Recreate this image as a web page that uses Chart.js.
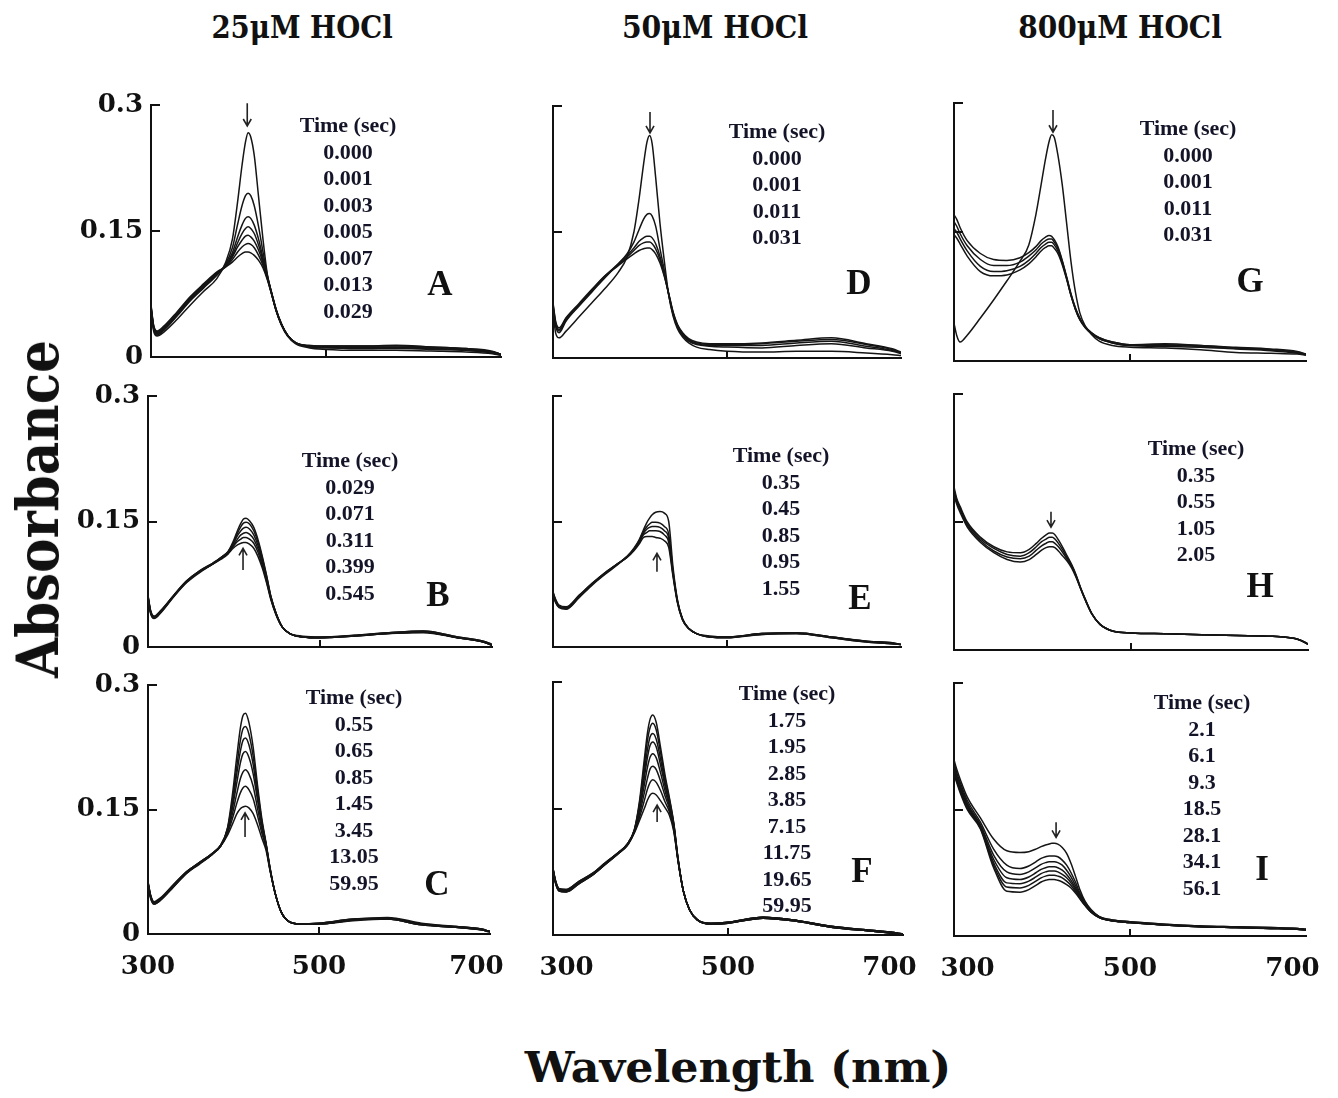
<!DOCTYPE html>
<html>
<head>
<meta charset="utf-8">
<title>HOCl spectra</title>
<script src="https://cdn.jsdelivr.net/npm/chart.js@4.4.1/dist/chart.umd.min.js"></script>
<style>
  body { margin: 0; background: #fff; }
  #page { position: relative; width: 1338px; height: 1098px; overflow: hidden; background: #fff; }
  canvas { position: absolute; }
  .big { position: absolute; font-family: 'DejaVu Serif', serif; font-weight: bold; color: #111; white-space: nowrap; line-height: 1; }
  .times { position: absolute; transform: translateX(-50%); text-align: center; white-space: nowrap;
           font: bold 22px 'Liberation Serif', serif; line-height: 26.5px; color: #141428; }
  .letter { position: absolute; transform: translate(-50%, -50%); font: bold 35px 'Liberation Serif', serif; line-height: 1; color: #111; }
</style>
</head>
<body>
<div id="page"></div>
<script>
// --- DATA ---
const wavelengths = [300, 303, 307, 315, 330, 345, 360, 375, 385, 393, 399, 404, 408, 411, 414, 418,
                     423, 428, 433, 438, 443, 449, 456, 465, 480, 500, 540, 580, 620, 660, 690, 700];

const xTickValues = [300, 500, 700];
const xTickLabels = ['300', '500', '700'];
const yTickValues = [0, 0.15, 0.3];
const yTickLabels = ['0', '0.15', '0.3'];

const columnTitles = ['25μM HOCl', '50μM HOCl', '800μM HOCl'];

// 25uM, first phase
const spectraA = [
  [.055,.031,.025,.030,.045,.062,.078,.093,.112,.140,.185,.228,.256,.267,.262,.240,.190,.140,.098,.075,.055,.038,.025,.016,.011,.009,.008,.008,.007,.006,.004,.002],
  [.058,.034,.027,.032,.049,.067,.082,.097,.110,.130,.158,.180,.192,.195,.192,.180,.155,.125,.097,.076,.056,.039,.026,.017,.012,.011,.010,.010,.009,.008,.005,.002],
  [.060,.036,.028,.034,.051,.069,.084,.099,.109,.124,.143,.157,.165,.167,.165,.157,.140,.118,.096,.076,.057,.040,.026,.017,.013,.012,.011,.011,.010,.008,.005,.003],
  [.057,.033,.026,.033,.050,.068,.083,.098,.108,.121,.136,.147,.153,.155,.153,.147,.133,.115,.095,.075,.056,.039,.026,.017,.012,.011,.010,.011,.011,.009,.006,.003],
  [.061,.037,.030,.036,.053,.071,.086,.100,.108,.119,.131,.139,.144,.145,.143,.138,.127,.112,.094,.075,.056,.039,.026,.017,.013,.012,.012,.012,.011,.009,.006,.003],
  [.059,.035,.029,.035,.052,.070,.085,.100,.107,.116,.125,.131,.134,.135,.134,.130,.121,.109,.093,.074,.056,.039,.026,.017,.013,.013,.013,.013,.012,.010,.006,.003],
  [.062,.038,.031,.037,.054,.072,.087,.101,.107,.113,.119,.123,.125,.125,.124,.121,.115,.106,.092,.074,.055,.039,.026,.017,.014,.013,.013,.014,.012,.010,.007,.003]
];
const timesA = ['0.000', '0.001', '0.003', '0.005', '0.007', '0.013', '0.029'];
const arrowA = [410, 0.302, 0.275];

// 25uM, second phase
const spectraB = [
  [.060,.042,.035,.042,.061,.078,.090,.099,.107,.114,.126,.139,.148,.153,.154,.151,.143,.128,.108,.085,.060,.040,.024,.016,.012,.011,.013,.017,.018,.011,.006,.002],
  [.058,.040,.034,.041,.060,.077,.089,.099,.107,.114,.124,.136,.144,.148,.149,.147,.139,.125,.106,.084,.060,.040,.024,.016,.012,.011,.013,.016,.018,.011,.006,.002],
  [.061,.043,.036,.043,.062,.079,.091,.100,.107,.113,.123,.133,.139,.142,.143,.141,.134,.121,.103,.082,.059,.040,.024,.016,.012,.011,.014,.017,.019,.012,.007,.003],
  [.059,.041,.035,.042,.061,.078,.090,.099,.106,.113,.121,.129,.134,.136,.137,.135,.129,.117,.100,.080,.058,.039,.024,.016,.012,.012,.013,.016,.017,.011,.006,.002],
  [.062,.044,.037,.044,.062,.079,.091,.100,.106,.112,.120,.126,.129,.131,.131,.129,.124,.113,.097,.078,.057,.039,.024,.016,.013,.012,.014,.017,.019,.012,.007,.003],
  [.060,.042,.036,.043,.061,.078,.090,.099,.105,.111,.118,.122,.124,.125,.125,.123,.118,.108,.094,.076,.056,.038,.024,.016,.012,.011,.013,.016,.018,.011,.006,.002]
];
const timesB = ['0.029', '0.071', '0.311', '0.399', '0.545'];
const arrowB = [410.5, 0.092, 0.118];

// 25uM, third phase
const spectraC = [
  [.061,.045,.037,.042,.058,.074,.085,.096,.107,.128,.170,.215,.248,.263,.266,.255,.225,.180,.140,.110,.078,.048,.026,.015,.012,.012,.017,.018,.011,.008,.005,.003],
  [.063,.047,.038,.043,.059,.075,.086,.097,.107,.127,.163,.203,.233,.247,.250,.241,.214,.174,.137,.109,.078,.048,.026,.015,.012,.013,.018,.019,.012,.008,.005,.003],
  [.060,.044,.036,.041,.057,.073,.084,.096,.106,.126,.158,.194,.220,.233,.236,.228,.204,.168,.135,.108,.077,.048,.026,.015,.012,.012,.017,.019,.012,.009,.006,.003],
  [.062,.046,.038,.043,.059,.075,.086,.097,.107,.125,.153,.183,.206,.217,.220,.213,.193,.162,.132,.108,.077,.048,.026,.015,.012,.013,.018,.020,.013,.009,.006,.003],
  [.059,.043,.036,.041,.057,.073,.085,.096,.106,.123,.146,.170,.187,.195,.198,.193,.178,.152,.127,.106,.076,.048,.026,.015,.012,.012,.017,.018,.011,.008,.005,.003],
  [.061,.045,.037,.042,.058,.074,.085,.096,.106,.121,.140,.158,.170,.176,.178,.174,.163,.143,.122,.104,.076,.048,.026,.015,.012,.012,.016,.018,.011,.008,.005,.002],
  [.063,.047,.039,.044,.060,.075,.086,.097,.106,.119,.133,.145,.151,.153,.154,.152,.145,.132,.116,.101,.075,.048,.026,.015,.012,.013,.017,.019,.012,.009,.006,.003]
];
const timesC = ['0.55', '0.65', '0.85', '1.45', '3.45', '13.05', '59.95'];
const arrowC = [413.5, 0.117, 0.146];

// 50uM
const spectraD = [
  [.055,.030,.024,.032,.049,.066,.083,.102,.120,.150,.190,.230,.257,.265,.255,.215,.160,.115,.075,.050,.035,.025,.018,.013,.010,.008,.007,.008,.008,.006,.004,.003],
  [.062,.040,.032,.045,.063,.080,.097,.112,.124,.138,.153,.165,.171,.172,.169,.157,.130,.104,.075,.052,.037,.027,.020,.016,.014,.013,.012,.015,.017,.012,.008,.005],
  [.064,.042,.034,.047,.064,.081,.098,.112,.122,.131,.139,.143,.145,.145,.143,.136,.121,.100,.076,.053,.038,.028,.021,.017,.015,.015,.015,.018,.020,.014,.009,.006],
  [.060,.038,.030,.044,.062,.079,.096,.111,.120,.128,.134,.137,.138,.138,.136,.130,.117,.098,.076,.054,.039,.029,.022,.018,.016,.016,.017,.020,.022,.016,.010,.006],
  [.066,.044,.036,.048,.065,.082,.098,.110,.118,.124,.128,.130,.131,.131,.129,.124,.113,.097,.077,.055,.040,.030,.023,.019,.017,.017,.018,.021,.024,.017,.011,.007]
];
const timesD = ['0.000', '0.001', '0.011', '0.031'];
const arrowD = [411.5, 0.293, 0.268];

const spectraE = [
  [.064,.055,.048,.046,.060,.075,.088,.100,.108,.118,.128,.140,.149,.154,.158,.161,.162,.160,.150,.095,.057,.033,.022,.016,.012,.011,.016,.016,.011,.006,.004,.003],
  [.062,.053,.047,.045,.059,.074,.087,.099,.108,.117,.127,.138,.144,.147,.149,.149,.148,.144,.135,.090,.055,.033,.022,.016,.012,.012,.015,.016,.012,.007,.004,.003],
  [.065,.056,.049,.047,.061,.076,.089,.100,.108,.117,.126,.136,.141,.143,.144,.144,.143,.139,.130,.088,.055,.033,.022,.016,.013,.012,.016,.017,.012,.007,.005,.003],
  [.063,.054,.048,.046,.060,.075,.088,.100,.107,.116,.125,.134,.137,.139,.139,.139,.138,.134,.125,.086,.054,.033,.022,.016,.012,.011,.015,.016,.011,.006,.004,.003],
  [.066,.057,.050,.048,.062,.076,.089,.100,.107,.115,.123,.131,.132,.132,.132,.131,.130,.127,.119,.084,.053,.032,.022,.016,.013,.012,.016,.017,.012,.007,.005,.003]
];
const timesE = ['0.35', '0.45', '0.85', '0.95', '1.55'];
const arrowE = [419.5, 0.090, 0.112];

const spectraF = [
  [.077,.062,.053,.052,.062,.071,.084,.097,.108,.125,.160,.205,.240,.256,.261,.252,.222,.190,.163,.133,.090,.052,.030,.018,.013,.014,.020,.016,.009,.005,.002,.001],
  [.078,.063,.054,.053,.063,.072,.085,.098,.108,.125,.157,.198,.231,.246,.251,.243,.216,.186,.161,.132,.090,.052,.030,.018,.013,.015,.021,.017,.010,.005,.002,.001],
  [.076,.061,.052,.051,.061,.071,.084,.097,.107,.124,.154,.190,.220,.235,.239,.232,.208,.181,.158,.131,.089,.052,.030,.018,.013,.014,.020,.016,.009,.005,.002,.001],
  [.079,.064,.055,.054,.064,.073,.086,.098,.108,.124,.151,.184,.211,.225,.229,.223,.201,.177,.156,.130,.089,.052,.030,.018,.014,.015,.021,.017,.010,.006,.003,.001],
  [.077,.062,.053,.052,.062,.072,.085,.097,.107,.123,.148,.176,.199,.211,.215,.210,.192,.171,.153,.128,.088,.052,.030,.018,.013,.014,.020,.016,.009,.005,.002,.001],
  [.078,.063,.054,.053,.063,.072,.085,.098,.107,.123,.144,.167,.186,.197,.200,.196,.182,.165,.150,.127,.088,.052,.030,.018,.014,.015,.021,.017,.010,.006,.003,.001],
  [.076,.061,.052,.051,.061,.071,.084,.097,.106,.122,.140,.158,.173,.181,.184,.181,.171,.158,.146,.125,.087,.052,.030,.018,.013,.014,.020,.016,.009,.005,.002,.001],
  [.079,.064,.055,.054,.064,.073,.086,.098,.107,.121,.136,.149,.160,.166,.168,.166,.159,.151,.142,.123,.087,.052,.030,.018,.014,.015,.021,.017,.010,.006,.003,.001]
];
const timesF = ['1.75', '1.95', '2.85', '3.85', '7.15', '11.75', '19.65', '59.95'];
const arrowF = [419, 0.134, 0.154];

// 800uM
const spectraG = [
  [.044,.030,.022,.030,.050,.071,.093,.116,.135,.170,.205,.235,.255,.263,.260,.240,.205,.160,.115,.080,.056,.041,.031,.023,.018,.016,.015,.013,.010,.009,.008,.007],
  [.170,.165,.155,.140,.125,.118,.117,.120,.126,.133,.140,.144,.146,.145,.141,.133,.117,.098,.078,.062,.050,.040,.033,.027,.022,.019,.020,.018,.015,.013,.010,.008],
  [.162,.157,.148,.134,.118,.111,.111,.115,.122,.129,.136,.140,.142,.142,.138,.131,.116,.097,.077,.061,.049,.040,.033,.027,.022,.019,.019,.018,.016,.014,.011,.008],
  [.154,.150,.142,.128,.110,.104,.105,.110,.117,.125,.132,.136,.138,.138,.135,.128,.114,.096,.076,.060,.048,.039,.032,.026,.021,.018,.018,.017,.015,.013,.010,.007],
  [.147,.143,.136,.122,.104,.099,.100,.106,.113,.121,.128,.132,.134,.134,.131,.125,.112,.095,.076,.060,.048,.039,.032,.026,.021,.018,.017,.016,.014,.012,.009,.007]
];
const timesG = ['0.000', '0.001', '0.011', '0.031'];
const arrowG = [412.5, 0.292, 0.266];

const spectraH = [
  [.191,.178,.168,.150,.132,.121,.115,.114,.118,.125,.131,.135,.137,.137,.135,.129,.120,.110,.100,.088,.073,.058,.042,.030,.022,.020,.019,.018,.017,.016,.012,.007],
  [.188,.176,.166,.148,.130,.119,.112,.110,.114,.121,.127,.130,.132,.132,.130,.125,.117,.108,.099,.087,.073,.058,.042,.030,.022,.020,.019,.018,.017,.016,.012,.007],
  [.185,.174,.164,.146,.128,.116,.109,.107,.110,.117,.122,.125,.127,.127,.125,.121,.114,.106,.098,.086,.072,.057,.042,.030,.022,.020,.019,.018,.017,.016,.012,.007],
  [.182,.171,.161,.144,.126,.114,.106,.103,.106,.112,.117,.120,.121,.121,.120,.116,.110,.104,.096,.085,.072,.057,.042,.030,.022,.020,.019,.018,.017,.016,.012,.007]
];
const timesH = ['0.35', '0.55', '1.05', '2.05'];
const arrowH = [409.6, 0.162, 0.144];

const spectraI = [
  [.209,.198,.186,.165,.140,.115,.101,.099,.100,.103,.106,.108,.109,.110,.110,.109,.105,.098,.086,.071,.055,.041,.031,.023,.019,.017,.014,.012,.011,.010,.009,.008],
  [.205,.194,.182,.161,.135,.103,.084,.080,.083,.088,.092,.094,.095,.095,.095,.094,.090,.084,.075,.064,.051,.040,.030,.023,.019,.017,.014,.012,.011,.010,.009,.008],
  [.202,.191,.179,.158,.132,.096,.076,.073,.076,.081,.085,.087,.088,.088,.088,.087,.084,.078,.070,.060,.049,.039,.030,.023,.018,.016,.013,.012,.010,.009,.009,.008],
  [.199,.188,.176,.156,.130,.091,.069,.067,.070,.075,.079,.081,.082,.082,.082,.081,.078,.073,.066,.057,.047,.038,.029,.022,.018,.016,.013,.011,.010,.009,.008,.007],
  [.196,.186,.174,.154,.129,.087,.063,.062,.065,.070,.074,.076,.077,.077,.077,.076,.073,.069,.063,.055,.046,.037,.029,.022,.018,.016,.013,.011,.010,.009,.008,.007],
  [.194,.184,.172,.152,.128,.084,.058,.057,.060,.065,.069,.071,.072,.072,.072,.071,.069,.065,.060,.053,.045,.036,.028,.022,.018,.016,.013,.011,.010,.009,.008,.007],
  [.192,.182,.170,.150,.127,.081,.053,.052,.055,.060,.064,.066,.067,.067,.067,.066,.064,.061,.057,.051,.044,.036,.028,.022,.018,.016,.013,.011,.010,.009,.008,.007]
];
const timesI = ['2.1', '6.1', '9.3', '18.5', '28.1', '34.1', '56.1'];
const arrowI = [416, 0.135, 0.117];

// --- LAYOUT ---
// box = [left, top, right, bottom] of each plot area, in page pixels
const panels = [
  { id: 'A', box: [151, 105, 501, 357], spectra: spectraA, times: timesA, arrow: arrowA, timesAt: [348, 112], letterAt: [440, 283] },
  { id: 'B', box: [148, 396, 492, 647], spectra: spectraB, times: timesB, arrow: arrowB, timesAt: [350, 447], letterAt: [438, 594] },
  { id: 'C', box: [148, 685, 490, 934], spectra: spectraC, times: timesC, arrow: arrowC, timesAt: [354, 684], letterAt: [437, 883] },
  { id: 'D', box: [553, 106, 901, 358], spectra: spectraD, times: timesD, arrow: arrowD, timesAt: [777, 118], letterAt: [859, 282] },
  { id: 'E', box: [553, 396, 901, 647], spectra: spectraE, times: timesE, arrow: arrowE, timesAt: [781, 442], letterAt: [860, 597] },
  { id: 'F', box: [553, 682, 903, 935], spectra: spectraF, times: timesF, arrow: arrowF, timesAt: [787, 680], letterAt: [862, 870] },
  { id: 'G', box: [954, 103, 1306, 361], spectra: spectraG, times: timesG, arrow: arrowG, timesAt: [1188, 115], letterAt: [1250, 280] },
  { id: 'H', box: [954, 394, 1308, 650], spectra: spectraH, times: timesH, arrow: arrowH, timesAt: [1196, 435], letterAt: [1260, 585] },
  { id: 'I', box: [954, 683, 1306, 936], spectra: spectraI, times: timesI, arrow: arrowI, timesAt: [1202, 689], letterAt: [1262, 868] }
];

// right padding leaves room for the "700" label so the plot area isn't shrunk
const Y_AXIS_W = 100, X_AXIS_H = 60, PAD_T = 25, PAD_R = 70;
const page = document.getElementById('page');
const tickFont = { family: 'DejaVu Serif', weight: 'bold', size: 26 };
const NB = '\u00a0\u00a0\u00a0';  // nudges end labels inwards so neighbours don't touch

// inward tick marks + the time-direction arrow of each panel
const marksPlugin = {
  id: 'marks',
  afterDraw(chart, args, opts) {
    const { ctx, chartArea: area, scales: { x, y } } = chart;
    ctx.save();
    ctx.strokeStyle = '#111';
    ctx.lineWidth = 2;
    ctx.beginPath();
    yTickValues.forEach(v => {
      if (v === 0) return;
      const py = Math.round(y.getPixelForValue(v));
      ctx.moveTo(area.left, py);
      ctx.lineTo(area.left + 9, py);
    });
    xTickValues.forEach(v => {
      if (v === x.min || v === x.max) return;
      const px = Math.round(x.getPixelForValue(v));
      ctx.moveTo(px, area.bottom);
      ctx.lineTo(px, area.bottom - 7);
    });
    ctx.stroke();

    const [wl, from, to] = opts.arrow;
    const ax = x.getPixelForValue(wl);
    const y0 = y.getPixelForValue(from), y1 = y.getPixelForValue(to);
    const dir = Math.sign(y1 - y0);
    ctx.lineWidth = 1.6;
    ctx.strokeStyle = '#222';
    ctx.beginPath();
    ctx.moveTo(ax, y0);
    ctx.lineTo(ax, y1);
    ctx.moveTo(ax - 4, y1 - dir * 7);
    ctx.lineTo(ax, y1);
    ctx.lineTo(ax + 4, y1 - dir * 7);
    ctx.stroke();
    ctx.restore();
  }
};

panels.forEach((p, i) => {
  const [L, T, R, B] = p.box;
  const col = Math.floor(i / 3), row = i % 3;
  const canvas = document.createElement('canvas');
  canvas.width = (R - L) + Y_AXIS_W + PAD_R;
  canvas.height = (B - T) + PAD_T + X_AXIS_H;
  canvas.style.left = (L - Y_AXIS_W) + 'px';
  canvas.style.top = (T - PAD_T) + 'px';
  page.appendChild(canvas);

  const xLabel = v => {
    const k = xTickValues.indexOf(v);
    if (k === xTickValues.length - 1) return xTickLabels[k] + NB;
    if (k === 0 && col > 0) return NB + xTickLabels[k];
    return xTickLabels[k];
  };

  new Chart(canvas, {
    type: 'line',
    data: {
      datasets: p.spectra.map(s => ({
        data: wavelengths.map((w, k) => ({ x: w, y: s[k] })),
        borderColor: '#151515',
        borderWidth: 1.5,
        pointRadius: 0,
        fill: false,
        cubicInterpolationMode: 'monotone'
      }))
    },
    options: {
      responsive: false,
      animation: false,
      devicePixelRatio: 1,
      layout: { padding: { top: PAD_T, right: PAD_R, left: 0, bottom: 0 } },
      plugins: { legend: { display: false }, tooltip: { enabled: false }, marks: { arrow: p.arrow } },
      scales: {
        x: {
          type: 'linear', min: 300, max: 700,
          afterBuildTicks: s => { s.ticks = xTickValues.map(v => ({ value: v })); },
          afterFit: s => { s.height = X_AXIS_H; },
          grid: { display: false, drawTicks: false },
          border: { display: true, color: '#111', width: 2 },
          ticks: {
            display: row === 2, font: tickFont, color: '#111', padding: 18,
            maxRotation: 0, autoSkip: false,
            callback: xLabel
          }
        },
        y: {
          type: 'linear', min: 0, max: 0.3,
          afterBuildTicks: s => { s.ticks = yTickValues.map(v => ({ value: v })); },
          afterFit: s => { s.width = Y_AXIS_W; },
          grid: { display: false, drawTicks: false },
          border: { display: true, color: '#111', width: 2 },
          ticks: {
            display: col === 0, font: tickFont, color: '#111', padding: 8,
            autoSkip: false,
            callback: v => yTickLabels[yTickValues.indexOf(v)]
          }
        }
      }
    },
    plugins: [marksPlugin]
  });

  const list = document.createElement('div');
  list.className = 'times';
  list.style.left = p.timesAt[0] + 'px';
  list.style.top = p.timesAt[1] + 'px';
  list.innerHTML = ['Time (sec)'].concat(p.times).join('<br>');
  page.appendChild(list);

  const letter = document.createElement('div');
  letter.className = 'letter';
  letter.style.left = p.letterAt[0] + 'px';
  letter.style.top = p.letterAt[1] + 'px';
  letter.textContent = p.id;
  page.appendChild(letter);
});

// big labels, squeezed to the widths they take in the figure
function bigText(text, cx, cy, size, width, rotate) {
  const el = document.createElement('div');
  el.className = 'big';
  el.style.fontSize = size + 'px';
  el.style.left = cx + 'px';
  el.style.top = cy + 'px';
  el.textContent = text;
  page.appendChild(el);
  const k = width / el.offsetWidth;
  el.style.transform = 'translate(-50%, -50%)' + (rotate ? ' rotate(-90deg)' : '') + ` scaleX(${k})`;
}

bigText(columnTitles[0], 302, 27, 32, 181, false);
bigText(columnTitles[1], 715, 27, 32, 186, false);
bigText(columnTitles[2], 1120, 27, 32, 204, false);
bigText('Absorbance', 38, 509, 58, 338, true);
bigText('Wavelength (nm)', 738, 1068, 42, 427, false);
</script>
</body>
</html>
